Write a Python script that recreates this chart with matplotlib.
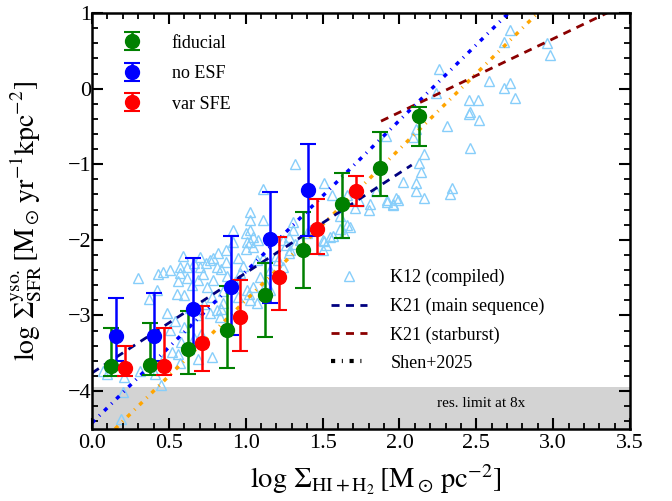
import numpy as np
import matplotlib
matplotlib.use("Agg")
import matplotlib.pyplot as plt
from matplotlib.ticker import MultipleLocator, FormatStrFormatter

plt.rcParams['font.family'] = 'serif'
plt.rcParams['font.serif'] = ['Liberation Serif', 'DejaVu Serif']
plt.rcParams['mathtext.fontset'] = 'stix'
plt.rcParams['axes.unicode_minus'] = True

# simulation bins (x = log Sigma_gas)
fid_x = [0.125, 0.375, 0.625, 0.875, 1.125, 1.375, 1.625, 1.875, 2.125]
fid_y = [-3.67, -3.66, -3.45, -3.19, -2.73, -2.13, -1.52, -1.05, -0.36]
fid_lo = [-3.80, -3.79, -3.77, -3.69, -3.28, -2.64, -1.97, -1.42, -0.76]
fid_hi = [-3.16, -3.10, -2.94, -2.61, -2.30, -1.63, -1.11, -0.58, -0.24]

noesf_x = [0.155, 0.405, 0.655, 0.905, 1.155, 1.405]
noesf_y = [-3.27, -3.27, -2.92, -2.62, -1.99, -1.34]
noesf_lo = [-3.60, -3.60, -3.40, -3.26, -2.84, -1.95]
noesf_hi = [-2.77, -2.70, -2.24, -1.95, -1.37, -0.73]

varsfe_x = [0.215, 0.465, 0.715, 0.965, 1.215, 1.465, 1.715]
varsfe_y = [-3.69, -3.67, -3.36, -3.02, -2.49, -1.85, -1.36]
varsfe_lo = [-3.80, -3.79, -3.74, -3.47, -2.93, -2.19, -1.55]
varsfe_hi = [-3.40, -3.16, -2.88, -2.53, -1.96, -1.46, -1.15]

# K12 compiled observations
k12_x = [2.72, 2.68, 2.96, 2.98, 2.26, 2.58, 2.72, 2.68, 2.75, 2.24, 2.45, 2.51, 2.46, 2.45,
         2.52, 2.31, 2.11, 2.09, 2.46, 2.16, 2.13, 2.14, 2.02, 2.11, 2.34, 2.11, 2.33, 2.16,
         1.91, 1.92, 1.96, 1.99,
         1.32, 1.11, 1.51, 1.56, 1.66, 1.74, 1.81, 1.71, 1.80, 1.92, 1.98, 1.96, 1.85, 1.03,
         1.11, 1.61, 1.66, 1.61, 1.68, 1.57, 1.51, 1.42, 1.31, 1.31, 1.28, 1.35, 1.26, 1.03,
         1.05, 1.08, 1.03, 1.05, 1.24, 1.11, 1.20, 1.28, 1.16, 1.52, 1.40, 1.50, 1.55, 1.64,
         1.50, 1.32, 1.29, 1.24, 1.21, 1.07, 1.16, 1.13, 1.09, 1.05, 1.07, 1.03, 1.01, 0.96,
         0.90, 0.83, 0.81, 0.85, 0.78, 0.77, 0.84, 0.77, 0.84, 1.02, 1.03,
         0.30, 0.43, 0.46, 0.51, 0.57, 0.59, 0.62, 0.57, 0.56, 0.70, 0.70, 0.69, 0.74, 0.79,
         0.82, 0.87, 0.81, 0.79, 0.92, 0.92, 1.00, 1.01, 1.00, 0.95, 0.87, 0.42, 0.55, 0.60,
         0.37, 0.49, 0.54, 0.51, 0.52, 0.46, 0.56, 0.57, 0.31, 0.10, 0.20, 0.45, 0.19, 0.78,
         0.69, 0.41, 0.21, 0.07,
         0.72, 0.65, 0.88, 0.93, 0.98, 0.66, 0.75, 0.62, 0.85, 0.95, 0.73, 0.64, 0.68, 0.60,
         0.66, 0.71, 0.58, 0.63]
k12_y = [0.78, 0.62, 0.60, 0.44, 0.26, 0.10, 0.08, 0.01, -0.12, -0.06, -0.15, -0.15, -0.31, -0.34,
         -0.42, -0.49, -0.53, -0.64, -0.79, -0.86, -0.99, -1.10, -1.23, -1.25, -1.32, -1.36, -1.39, -1.44,
         -0.63, -1.47, -1.53, -1.47,
         -1.00, -1.33, -1.25, -1.41, -1.41, -1.48, -1.53, -1.58, -1.61, -1.50, -1.45, -1.54, -1.36, -1.74,
         -1.74, -1.69, -1.80, -1.85, -1.83, -1.95, -2.01, -1.87, -1.76, -1.87, -1.96, -2.00, -2.07, -1.87,
         -1.96, -2.00, -2.03, -2.09, -2.00, -2.24, -2.22, -2.18, -2.40, -2.07, -1.91, -2.00, -1.96, -1.91,
         -2.13, -2.05, -2.13, -2.36, -2.27, -2.27, -2.66, -2.58, -2.49, -2.62, -2.84, -2.80, -2.66, -2.44,
         -2.64, -3.02, -2.93, -2.84, -2.75, -2.27, -2.38, -2.97, -2.91, -2.71, -1.63,
         -2.51, -2.45, -2.42, -2.40, -2.36, -2.22, -2.36, -2.44, -2.55, -2.23, -2.36, -2.53, -2.31, -2.24,
         -2.18, -2.14, -2.36, -2.53, -1.87, -2.03, -1.91, -2.03, -2.12, -2.24, -2.29, -2.66, -2.71, -2.73,
         -2.78, -2.97, -3.07, -3.19, -3.48, -3.58, -3.51, -3.63, -3.74, -3.77, -4.01, -3.92, -4.37, -3.55,
         -3.57, -3.77, -3.82, -3.74,
         -2.45, -2.60, -2.48, -2.56, -2.35, -2.30, -2.62, -2.50, -2.68, -2.75, -2.85, -2.90, -3.00, -3.15,
         -3.30, -3.25, -3.35, -3.45]

# relations
k21ms_x = [0.0, 2.08]
k21ms_y = [-3.76, -1.01]
k21sb_x = [1.88, 3.35]
k21sb_y = [-0.43, 1.00]
shen_blue_x = [0.0, 2.71]
shen_blue_y = [-4.42, 1.00]
shen_orange_x = [0.15, 2.90]
shen_orange_y = [-4.50, 1.00]

fig = plt.figure(figsize=(6.72, 5.01), dpi=100)
ax = fig.add_axes([0.137, 0.144, 0.8005, 0.830])

ax.axhspan(-4.5, -3.95, color='#d3d3d3', zorder=0, lw=0)
ax.text(2.53, -4.17, 'res. limit at 8x', ha='center', va='center', fontsize=11)

k12, = ax.plot(k12_x, k12_y, ls='none', marker='^', ms=7, mfc='none', mec='#87cefa',
               mew=1.0, zorder=1, label='K12 (compiled)')

shen_pat = (0, (1.2, 1.7, 0.3, 1.7))
ax.plot(shen_blue_x, shen_blue_y, color='blue', lw=2.5, ls=shen_pat, dash_capstyle='butt', zorder=2)
ax.plot(shen_orange_x, shen_orange_y, color='orange', lw=2.5, ls=shen_pat, dash_capstyle='butt', zorder=2)
ms_line, = ax.plot(k21ms_x, k21ms_y, color='navy', lw=2, ls=(0, (2.9, 2.3)), zorder=2,
                   label='K21 (main sequence)')
sb_line, = ax.plot(k21sb_x, k21sb_y, color='darkred', lw=2, ls=(0, (2.9, 2.3)), zorder=2,
                   label='K21 (starburst)')
shen_leg, = ax.plot([], [], color='black', lw=3, ls=(0, (1.0, 1.6, 0.25, 1.6)),
                    dash_capstyle='butt', label='Shen+2025')

def err(x, y, lo, hi, c, lab):
    y = np.array(y)
    yerr = [y - np.array(lo), np.array(hi) - y]
    return ax.errorbar(x, y, yerr=yerr, fmt='o', color=c, ms=10, elinewidth=1.8, capsize=6,
                       capthick=1.5, zorder=3, label=lab)

h1 = err(fid_x, fid_y, fid_lo, fid_hi, 'green', 'fiducial')
h2 = err(noesf_x, noesf_y, noesf_lo, noesf_hi, 'blue', 'no ESF')
h3 = err(varsfe_x, varsfe_y, varsfe_lo, varsfe_hi, 'red', 'var SFE')

leg1 = ax.legend(handles=[h1, h2, h3], loc='upper left', bbox_to_anchor=(0.041, 0.948),
                 borderaxespad=0, borderpad=0, frameon=False, fontsize=13, handletextpad=1.2,
                 labelspacing=0.75)
ax.add_artist(leg1)
ax.legend(handles=[k12, ms_line, sb_line, shen_leg], loc='upper left', bbox_to_anchor=(0.444, 0.384),
          borderaxespad=0, borderpad=0, frameon=False, fontsize=13, handletextpad=1.3,
          labelspacing=0.62)

ax.set_xlim(0, 3.5)
ax.set_ylim(-4.5, 1)
ax.xaxis.set_major_locator(MultipleLocator(0.5))
ax.xaxis.set_minor_locator(MultipleLocator(0.1))
ax.yaxis.set_major_locator(MultipleLocator(1))
ax.yaxis.set_minor_locator(MultipleLocator(0.2))
ax.xaxis.set_major_formatter(FormatStrFormatter('%.1f'))
ax.tick_params(which='both', direction='in', top=True, right=True, labelsize=16)
ax.tick_params(axis='y', which='major', pad=0.5)
ax.tick_params(which='major', length=8, width=1.5)
ax.tick_params(which='minor', length=4, width=1.3)
for s in ax.spines.values():
    s.set_linewidth(1.8)

ax.set_xlabel(r'$\log\,\Sigma_{\rm HI+H_2}\,[{\rm M_\odot\,pc^{-2}}]$', fontsize=20.5)
ax.set_ylabel(r'$\log\,\Sigma^{\rm yso.}_{\rm SFR}\,[{\rm M_\odot\,yr^{-1}kpc^{-2}}]$', fontsize=20)
ax.xaxis.set_label_coords(0.528, -0.083)
ax.yaxis.set_label_coords(-0.09, 0.5)

fig.savefig('out.png', dpi=100)
